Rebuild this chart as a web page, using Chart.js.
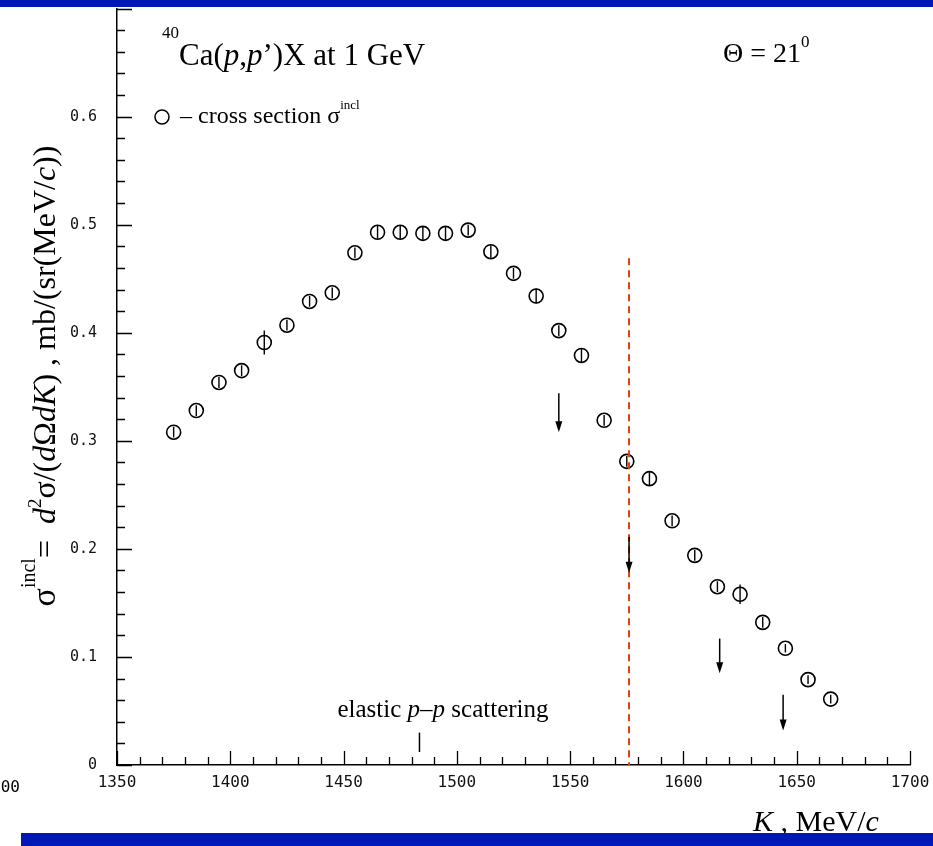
<!DOCTYPE html>
<html>
<head>
<meta charset="utf-8">
<title>40Ca(p,p')X at 1 GeV</title>
<script src="https://cdn.jsdelivr.net/npm/chart.js@4.4.1/dist/chart.umd.min.js"></script>
<style>
  html, body { margin: 0; padding: 0; background: #fff; }
  #wrap { position: relative; width: 933px; height: 846px; }
</style>
</head>
<body>
<div id="wrap"><canvas id="spectrum"></canvas></div>
<script>
/* Inclusive spectrum 40Ca(p,p')X at 1 GeV, Theta = 21 deg */

// proton momentum K, MeV/c
const kValues = [1375, 1385, 1395, 1405, 1415, 1425, 1435, 1445, 1455, 1465,
                 1475, 1485, 1495, 1505, 1515, 1525, 1535, 1545, 1555, 1565,
                 1575, 1585, 1595, 1605, 1615, 1625, 1635, 1645, 1655, 1665];
// sigma_incl, mb/(sr MeV/c)
const sigmaIncl = [0.308, 0.328, 0.354, 0.365, 0.391, 0.407, 0.429, 0.437, 0.474, 0.493,
                   0.493, 0.492, 0.492, 0.495, 0.475, 0.455, 0.434, 0.402, 0.379, 0.319,
                   0.281, 0.265, 0.226, 0.194, 0.165, 0.158, 0.132, 0.108, 0.079, 0.061];
const sigmaErr = [0.005, 0.005, 0.005, 0.005, 0.011, 0.005, 0.005, 0.005, 0.005, 0.006,
                  0.006, 0.006, 0.006, 0.005, 0.006, 0.005, 0.007, 0.005, 0.007, 0.005,
                  0.005, 0.006, 0.005, 0.005, 0.005, 0.009, 0.005, 0.004, 0.004, 0.004];

// upper-limit arrows (K, start, tip)
const limitK    = [1545, 1576, 1616, 1644];
const limitFrom = [0.344, 0.211, 0.117, 0.065];
const limitTo   = [0.308, 0.178, 0.085, 0.032];

// dashed cut and elastic p-p marker
const cutK = 1576;
const cutTop = 0.469;
const elasticK = 1483.5;
const elasticTick = [0.012, 0.030];

const xTicks = [1350, 1400, 1450, 1500, 1550, 1600, 1650, 1700];
const yTicks = [0, 0.1, 0.2, 0.3, 0.4, 0.5, 0.6, 0.7];

const SERIF = "'Liberation Serif', 'Times New Roman', serif";
const MONO  = "'DejaVu Sans Mono', monospace";

function fontOf(p) {
  return (p.i ? 'italic ' : '') + (p.s || 31) + 'px ' + SERIF;
}
function drawRich(ctx, parts, x, y, align) {
  let w = 0;
  parts.forEach(p => { ctx.font = fontOf(p); w += ctx.measureText(p.t).width; });
  let cx = align === 'center' ? x - w / 2 : x;
  parts.forEach(p => {
    ctx.font = fontOf(p);
    ctx.fillText(p.t, cx, y + (p.dy || 0));
    cx += ctx.measureText(p.t).width;
  });
}

/* inside ticks, error bars, limits, cut line and all annotations */
const decorations = {
  id: 'decorations',
  afterDatasetsDraw(chart) {
    const { ctx, chartArea: a, scales: { x, y } } = chart;
    ctx.save();

    // axis ticks pointing into the frame
    ctx.strokeStyle = '#000';
    ctx.lineWidth = 1.3;
    ctx.beginPath();
    for (let k = 1350; k <= 1700; k += 10) {
      const px = Math.round(x.getPixelForValue(k)) + 0.5;
      const len = (k % 50 === 0) ? 14 : 8;
      ctx.moveTo(px, a.bottom);
      ctx.lineTo(px, a.bottom - len);
    }
    for (let i = 0; i <= 35; i++) {
      const py = Math.round(y.getPixelForValue(i * 0.02)) + 0.5;
      const len = (i % 5 === 0) ? 15 : 8;
      ctx.moveTo(a.left, py);
      ctx.lineTo(a.left + len, py);
    }
    ctx.stroke();

    // vertical error bars through the markers
    ctx.lineWidth = 1.4;
    ctx.beginPath();
    kValues.forEach((k, i) => {
      const px = x.getPixelForValue(k);
      ctx.moveTo(px, y.getPixelForValue(sigmaIncl[i] - sigmaErr[i]));
      ctx.lineTo(px, y.getPixelForValue(sigmaIncl[i] + sigmaErr[i]));
    });
    ctx.stroke();

    // dashed cut
    ctx.strokeStyle = '#d9400f';
    ctx.lineWidth = 2;
    ctx.setLineDash([7, 5]);
    ctx.beginPath();
    const cx = x.getPixelForValue(cutK);
    ctx.moveTo(cx, y.getPixelForValue(cutTop));
    ctx.lineTo(cx, a.bottom);
    ctx.stroke();
    ctx.setLineDash([]);

    // upper limits
    ctx.strokeStyle = '#000';
    ctx.fillStyle = '#000';
    ctx.lineWidth = 1.5;
    limitK.forEach((k, i) => {
      const px = x.getPixelForValue(k);
      const y0 = y.getPixelForValue(limitFrom[i]);
      const y1 = y.getPixelForValue(limitTo[i]);
      ctx.beginPath();
      ctx.moveTo(px, y0);
      ctx.lineTo(px, y1 - 8);
      ctx.stroke();
      ctx.beginPath();
      ctx.moveTo(px - 3.5, y1 - 11);
      ctx.lineTo(px + 3.5, y1 - 11);
      ctx.lineTo(px, y1);
      ctx.closePath();
      ctx.fill();
    });

    // elastic p-p position
    ctx.lineWidth = 1.5;
    ctx.beginPath();
    const ex = x.getPixelForValue(elasticK);
    ctx.moveTo(ex, y.getPixelForValue(elasticTick[0]));
    ctx.lineTo(ex, y.getPixelForValue(elasticTick[1]));
    ctx.stroke();

    ctx.textBaseline = 'alphabetic';
    ctx.textAlign = 'left';
    drawRich(ctx, [
      { t: 'elastic ', s: 25 }, { t: 'p', s: 25, i: true }, { t: '\u2013', s: 25 },
      { t: 'p', s: 25, i: true }, { t: ' scattering', s: 25 }
    ], 443, 717, 'center');

    // title and angle
    drawRich(ctx, [
      { t: '40', s: 17, dy: -27 }, { t: 'Ca(' }, { t: 'p', i: true }, { t: ',' },
      { t: 'p', i: true }, { t: '\u2019)X at 1 GeV' }
    ], 162, 65, 'left');
    drawRich(ctx, [{ t: '\u0398 = 21', s: 28 }, { t: '0', s: 17, dy: -15 }], 723, 62, 'left');

    // legend
    ctx.beginPath();
    ctx.arc(162, 117, 7, 0, Math.PI * 2);
    ctx.fillStyle = '#fff';
    ctx.fill();
    ctx.lineWidth = 1.5;
    ctx.stroke();
    ctx.fillStyle = '#000';
    drawRich(ctx, [
      { t: '\u2013 cross section \u03c3', s: 24 }, { t: 'incl', s: 13, dy: -14 }
    ], 180, 123, 'left');

    // axis titles
    drawRich(ctx, [
      { t: 'K', i: true, s: 30 }, { t: ' , MeV/', s: 30 }, { t: 'c', i: true, s: 30 }
    ], 753, 831, 'left');

    ctx.save();
    ctx.translate(55, 376);
    ctx.rotate(-Math.PI / 2);
    drawRich(ctx, [
      { t: '\u03c3', s: 34 }, { t: 'incl', s: 20, dy: -20 }, { t: '=  ', s: 32 },
      { t: 'd', i: true, s: 32 }, { t: '2', s: 19, dy: -14 }, { t: '\u03c3/(', s: 32 },
      { t: 'd', i: true, s: 32 }, { t: '\u03a9', s: 32 }, { t: 'dK', i: true, s: 32 },
      { t: ') , mb/(sr(MeV/', s: 32 }, { t: 'c', i: true, s: 32 }, { t: '))', s: 32 }
    ], 0, 0, 'center');
    ctx.restore();

    // stray label at the left margin
    ctx.font = '16px ' + MONO;
    ctx.textAlign = 'right';
    ctx.textBaseline = 'middle';
    ctx.fillText('00', 20, 788);

    ctx.restore();
  },
  afterDraw(chart) {
    const { ctx } = chart;
    ctx.save();
    ctx.fillStyle = '#0018b4';
    ctx.fillRect(0, 0, 933, 7);
    ctx.fillRect(21, 833, 912, 13);
    ctx.restore();
  }
};

const points = kValues.map((k, i) => ({ x: k, y: sigmaIncl[i] }));

new Chart(document.getElementById('spectrum').getContext('2d'), {
  type: 'scatter',
  data: {
    datasets: [{
      label: 'cross section',
      data: points,
      pointStyle: 'circle',
      pointRadius: 7,
      pointBorderWidth: 1.6,
      pointBorderColor: '#000',
      pointBackgroundColor: '#fff',
    }],
  },
  options: {
    responsive: true,
    maintainAspectRatio: false,
    animation: false,
    devicePixelRatio: 1,
    layout: { padding: { left: 0, top: 7, right: 23, bottom: 0 } },
    plugins: {
      legend:  { display: false },
      tooltip: { enabled: false },
    },
    scales: {
      x: {
        type: 'linear',
        min: 1350,
        max: 1700,
        afterBuildTicks: s => { s.ticks = xTicks.map(v => ({ value: v })); },
        afterFit: s => { s.height = 81; s.paddingLeft = 0; s.paddingRight = 0; },
        grid:   { display: false },
        border: { display: true, color: '#000', width: 1.5 },
        ticks:  {
          font: { family: MONO, size: 16 },
          color: '#111',
          padding: 0,
          maxRotation: 0,
          callback: v => String(v),
        },
      },
      y: {
        min: 0,
        max: 0.7,
        afterBuildTicks: s => { s.ticks = yTicks.map(v => ({ value: v })); },
        afterFit: s => { s.width = 117; s.paddingTop = 0; s.paddingBottom = 0; },
        grid:   { display: false },
        border: { display: true, color: '#000', width: 1.5 },
        ticks:  {
          font: { family: MONO, size: 15 },
          color: '#111',
          padding: 12,
          callback: v => (v === 0 ? '0' : v >= 0.65 ? '' : v.toFixed(1)),
        },
      },
    },
  },
  plugins: [decorations],
});
</script>
</body>
</html>
